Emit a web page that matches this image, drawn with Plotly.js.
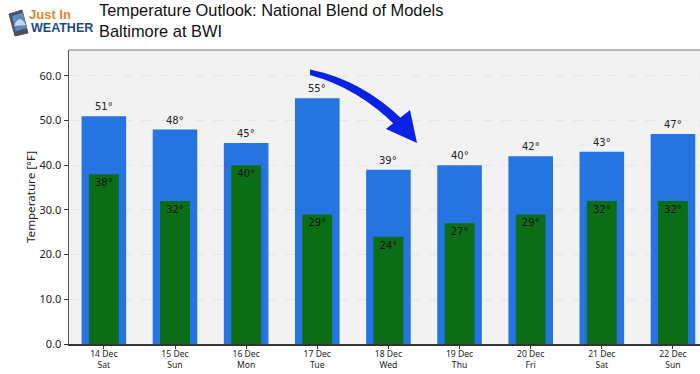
<!DOCTYPE html>
<html><head><meta charset="utf-8">
<script src="https://cdn.plot.ly/plotly-3.0.1.min.js"></script>
<style>html,body{margin:0;padding:0;background:#fff;overflow:hidden}#c{width:700px;height:374px}</style>
</head><body><div id="c"></div>
<script>
const days = ['14 Dec<br>Sat','15 Dec<br>Sun','16 Dec<br>Mon','17 Dec<br>Tue','18 Dec<br>Wed','19 Dec<br>Thu','20 Dec<br>Fri','21 Dec<br>Sat','22 Dec<br>Sun'];
const highs = [51,48,45,55,39,40,42,43,47];
const lows = [38,32,40,29,24,27,29,32,32];
const yTicks = [0,10,20,30,40,50,60];
const yLabels = ['0.0','10.0','20.0','30.0','40.0','50.0','60.0'];
const titleText = 'Temperature Outlook: National Blend of Models<br>Baltimore at BWI';

const W=700,H=374,L=69,T=50,B=344;
const px=x=>(x-L)/(W-L), py=y=>(B-y)/(B-T);
const pp=pts=>pts.map((p,i)=>(i?'L':'M')+px(p[0])+','+py(p[1])).join(' ')+' Z';
const qd=(a,c,b)=>`M${px(a[0])},${py(a[1])} Q${px(c[0])},${py(c[1])} ${px(b[0])},${py(b[1])}`;
const blue='#2673e2', green='#0b6e17', arrowBlue='#0a22e6';
const sh=(path,fill,line)=>({type:'path',xref:'paper',yref:'paper',layer:'above',path,fillcolor:fill,line:line||{width:0}});
const traces=[
 {type:'bar',x:days,y:highs,width:0.627,marker:{color:blue,line:{width:0}},hoverinfo:'skip'},
 {type:'bar',x:days,y:lows,width:0.42,marker:{color:green,line:{width:0}},
  text:lows.map(v=>v+'°'),textposition:'inside',insidetextanchor:'end',
  textangle:0,constraintext:'none',
  textfont:{family:'DejaVu Sans',size:10,color:'#111'},hoverinfo:'skip'}
];
const highLabels=highs.map((v,i)=>({xref:'x',yref:'y',x:days[i],y:v,yanchor:'bottom',yshift:2,showarrow:false,
  text:v+'°',font:{family:'DejaVu Sans',size:10,color:'#222'}}));
const layout={
 width:W,height:H,showlegend:false,barmode:'overlay',
 paper_bgcolor:'#fff',plot_bgcolor:'#f2f2f3',
 margin:{l:L,r:0,t:T,b:H-B,pad:0},
 title:{text:titleText,x:99/W,xanchor:'left',xref:'container',y:1-16/H,yanchor:'top',yref:'container',
   font:{family:'Liberation Sans',size:16.4,color:'#111'},pad:{t:0,l:0}},
 xaxis:{type:'category',categoryorder:'array',categoryarray:days,range:[-0.49,8.38],
   showgrid:false,ticks:'outside',ticklen:3,tickcolor:'#333',tickwidth:1,showline:true,linecolor:'#333',linewidth:1.5,
   tickfont:{family:'Noto Sans',size:8.6,color:'#222'},tickangle:0,automargin:false,ticklabelstandoff:-2},
 yaxis:{range:[0,65.8],tickmode:'array',tickvals:yTicks,ticktext:yLabels,showgrid:true,
   gridcolor:'#e6e6e6',griddash:'dash',gridwidth:1,zeroline:false,
   ticks:'outside',ticklen:4,tickcolor:'#333',showline:true,linecolor:'#555',linewidth:1.5,
   tickfont:{family:'Noto Sans',size:11,color:'#222'},
   title:{text:'Temperature [°F]',font:{family:'Noto Sans',size:11.6,color:'#222'},standoff:1},automargin:false},
 shapes:[
  {type:'line',xref:'paper',yref:'paper',x0:0,x1:1,y0:1,y1:1,line:{color:'#777',width:1.2}},
  // curved arrow callout
  sh(qd([310,69.5],[362,80],[403,120])+` L${px(396)},${py(126)} Q${px(358)},${py(88)} ${px(310)},${py(75)} Z`,arrowBlue),
  sh(pp([[410,110],[386,129],[417,143]]),arrowBlue),
  // phone logo
  sh(pp([[9,14],[22,10],[28,33],[15,36]]),'#4a4f59',{color:'#555',width:1}),
  sh(pp([[12,16],[23,12.5],[26.5,28],[15.5,31.5]]),'#5f8ac4'),
  sh(qd([14,26],[19,13],[26,25])+' Z','#c9d6ea')
 ],
 annotations:highLabels.concat([
  {xref:'paper',yref:'paper',x:px(27),y:py(14),xanchor:'left',yanchor:'middle',showarrow:false,text:'<b>Just In</b>',
   font:{family:'Liberation Sans',size:13,color:'#e8842c'}},
  {xref:'paper',yref:'paper',x:px(29),y:py(27.5),xanchor:'left',yanchor:'middle',showarrow:false,text:'<b>WEATHER</b>',
   font:{family:'Liberation Sans',size:12.5,color:'#1a4a8a'}}
 ])
};
Plotly.newPlot('c',traces,layout,{displayModeBar:false,staticPlot:true});
</script></body></html>
